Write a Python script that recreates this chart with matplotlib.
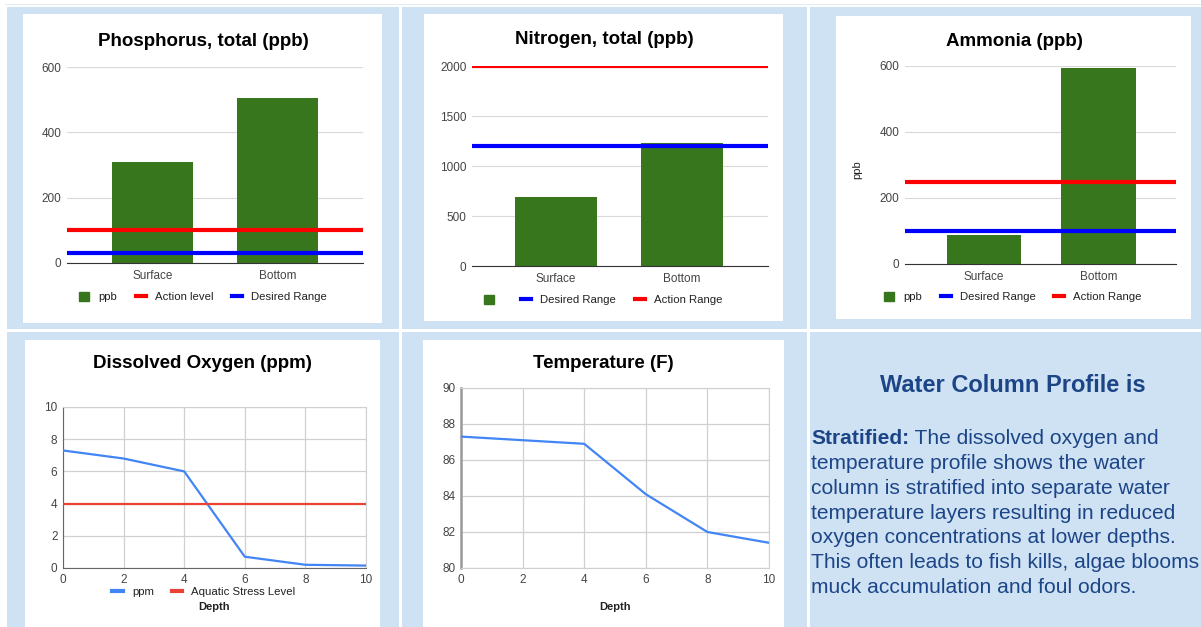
import matplotlib.pyplot as plt
from matplotlib.patches import Rectangle
from matplotlib.lines import Line2D

plt.rcParams['font.family'] = ['Liberation Sans', 'DejaVu Sans']

# data
categories = ["Surface", "Bottom"]
phos_ppb = [310, 505]
phos_action = 100
phos_desired = 30
nitro_ppb = [695, 1230]
nitro_desired = 1200
nitro_action = 2000
ammonia_ppb = [88, 595]
ammonia_desired = 100
ammonia_action = 250
depth = [0, 2, 4, 6, 8, 10]
oxygen_ppm = [7.3, 6.8, 6.0, 0.7, 0.2, 0.15]
stress_level = 4
temperature_f = [87.3, 87.1, 86.9, 84.1, 82.0, 81.4]

W, H = 1201, 627
BLUE_BG = '#cfe2f3'
GREEN = '#38761d'
TXT = '#444444'
NAVY = '#1c4587'

fig = plt.figure(figsize=(W / 100, H / 100), dpi=100)
fig.patch.set_facecolor('white')


def rect(x0, y0, x1, y1, color):
    fig.patches.append(Rectangle((x0 / W, 1 - y1 / H), (x1 - x0) / W, (y1 - y0) / H,
                                 transform=fig.transFigure, color=color, lw=0, zorder=-5))


def px_axes(x0, y0, x1, y1):
    return fig.add_axes([x0 / W, 1 - y1 / H, (x1 - x0) / W, (y1 - y0) / H])


def ftext(x, y, s, **kw):
    return fig.text(x / W, 1 - y / H, s, **kw)


# light blue cells and white cards
rect(5, 4, W, 5, '#e3edf7')
for x0, x1 in [(7, 399), (402, 807), (810, W)]:
    rect(x0, 7, x1, 329, BLUE_BG)
    rect(x0, 332, x1, H, BLUE_BG)
rect(23, 14, 382, 323, 'white')
rect(424, 14, 783, 321, 'white')
rect(836, 16, 1191, 319, 'white')
rect(25, 340, 380, H, 'white')
rect(423, 340, 784, H, 'white')


def style_bar_axes(ax, ymax, step):
    ax.set_facecolor('none')
    for s in ['top', 'right', 'left']:
        ax.spines[s].set_visible(False)
    ax.spines['bottom'].set_color('#333333')
    ax.set_ylim(0, ymax)
    ax.set_yticks(range(0, ymax + 1, step))
    ax.grid(axis='y', color='#d9d9d9', lw=0.8)
    ax.set_axisbelow(True)
    ax.tick_params(length=0, labelsize=8.5, labelcolor=TXT)
    ax.tick_params(axis='x', pad=5)
    ax.tick_params(axis='y', pad=4)


def bar_panel(box, xlim, width, values, ymax, step, hlines, legend_order, legend_xy, title, title_xy):
    ax = px_axes(*box)
    ax.bar(range(len(categories)), values, width=width, color=GREEN, zorder=2)
    ax.set_xticks(range(len(categories)), categories)
    ax.set_xlim(*xlim)
    style_bar_axes(ax, ymax, step)
    colors = {}
    for name, val, col in hlines:
        ax.axhline(val, color=col, lw=3, zorder=3)
        colors[name] = col
    leg_handles = [Rectangle((0, 0), 1, 1, color=GREEN)] + \
                  [Line2D([], [], color=colors[n], lw=3) for n in legend_order[1:]]
    fig.legend(leg_handles, legend_order, loc='center',
               bbox_to_anchor=(legend_xy[0] / W, 1 - legend_xy[1] / H),
               ncol=3, frameon=False, fontsize=8.2, handlelength=0.9, handleheight=0.9,
               columnspacing=1.6, handletextpad=0.8, labelcolor='#222222')
    ftext(title_xy[0], title_xy[1], title, ha='center', va='center', fontsize=13.5, fontweight='bold')
    return ax


bar_panel((67, 67, 363, 263), (-0.68, 1.68), 0.645, phos_ppb, 600, 200,
          [("Action level", phos_action, '#ff0000'), ("Desired Range", phos_desired, '#0000ff')],
          ["ppb", "Action level", "Desired Range"], (203, 297),
          "Phosphorus, total (ppb)", (203, 42))

bar_panel((472, 66, 768, 266), (-0.667, 1.683), 0.65, nitro_ppb, 2000, 500,
          [("Desired Range", nitro_desired, '#0000ff'), ("Action Range", nitro_action, '#ff0000')],
          ["", "Desired Range", "Action Range"], (603, 300),
          "Nitrogen, total (ppb)", (604, 39))

bar_panel((905, 66, 1176, 264), (-0.69, 1.677), 0.65, ammonia_ppb, 600, 200,
          [("Desired Range", ammonia_desired, '#0000ff'), ("Action Range", ammonia_action, '#ff0000')],
          ["ppb", "Desired Range", "Action Range"], (1013, 297),
          "Ammonia (ppb)", (1014, 41))
ftext(857, 170, "ppb", rotation=90, ha='center', va='center', fontsize=8, color='#222222')


def style_line_axes(ax, ylo, yhi):
    ax.set_facecolor('none')
    ax.set_xlim(0, 10)
    ax.set_ylim(ylo, yhi)
    ax.set_xticks(range(0, 11, 2))
    ax.set_yticks(range(ylo, yhi + 1, 2))
    ax.grid(color='#d0d0d0', lw=0.9)
    ax.set_axisbelow(True)
    for s in ['top', 'right']:
        ax.spines[s].set_color('#d0d0d0')
    ax.tick_params(length=0, labelsize=8.5, labelcolor=TXT)
    ax.tick_params(axis='x', pad=4)
    ax.tick_params(axis='y', pad=4)


# dissolved oxygen
ax4 = px_axes(63, 407, 366, 568)
style_line_axes(ax4, 0, 10)
ax4.spines['bottom'].set_color('#666666')
ax4.spines['left'].set_color('#666666')
ax4.plot(depth, oxygen_ppm, color='#4285f4', lw=1.6, zorder=3)
ax4.axhline(stress_level, color='#ea4335', lw=1.6, zorder=3)
fig.legend([Line2D([], [], color='#4285f4', lw=3), Line2D([], [], color='#ea4335', lw=3)],
           ["ppm", "Aquatic Stress Level"], loc='center', bbox_to_anchor=(204 / W, 1 - 592 / H),
           ncol=2, frameon=False, fontsize=8.2, handlelength=0.9, columnspacing=1.6,
           handletextpad=0.8, labelcolor='#222222')
ftext(214, 607, "Depth", ha='center', va='center', fontsize=8, fontweight='bold', color='#222222')
ftext(202.5, 363, "Dissolved Oxygen (ppm)", ha='center', va='center', fontsize=13.5, fontweight='bold')

# temperature
ax5 = px_axes(461, 388, 769, 568)
style_line_axes(ax5, 80, 90)
ax5.spines['bottom'].set_color('#d0d0d0')
ax5.spines['left'].set_color('#999999')
ax5.spines['left'].set_linewidth(1.8)
ax5.plot(depth, temperature_f, color='#4285f4', lw=1.6, zorder=3)
ftext(615, 607, "Depth", ha='center', va='center', fontsize=8, fontweight='bold', color='#222222')
ftext(603.5, 363, "Temperature (F)", ha='center', va='center', fontsize=13.5, fontweight='bold')

# text panel
ftext(1013, 385, "Water Column Profile is", ha='center', va='center', fontsize=17,
      fontweight='bold', color=NAVY)
body = [
    " The dissolved oxygen and",
    "temperature profile shows the water",
    "column is stratified into separate water",
    "temperature layers resulting in reduced",
    "oxygen concentrations at lower depths.",
    "This often leads to fish kills, algae blooms",
    "muck accumulation and foul odors.",
]
x_left = 811
y0 = 439
dy = 24.7
bold = ftext(x_left, y0, "Stratified:", ha='left', va='center', fontsize=15.1, fontweight='bold', color=NAVY)
renderer = fig.canvas.get_renderer()
bw = bold.get_window_extent(renderer).width
for i, line in enumerate(body):
    x = x_left + bw if i == 0 else x_left
    ftext(x, y0 + i * dy, line, ha='left', va='center', fontsize=15.1, color=NAVY)

fig.savefig('out.png', dpi=100)
